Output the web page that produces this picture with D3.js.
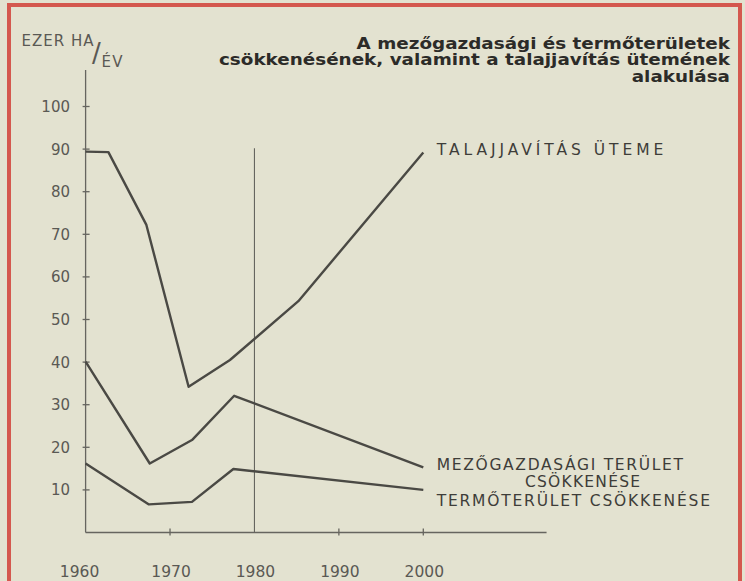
<!DOCTYPE html>
<meta charset="utf-8">
<style>

body {
  margin: 0;
  background: #e3e2d0;
}

svg {
  display: block;
}

.series {
  fill: none;
  stroke: #4a4944;
  stroke-width: 2.4px;
  stroke-linejoin: round;
}

.axis-line {
  stroke: #66655f;
  stroke-width: 1.3px;
  fill: none;
}

.tick-label {
  font-family: "DejaVu Sans", sans-serif;
  font-size: 15px;
  fill: #5a5954;
}

.series-label {
  font-family: "DejaVu Sans", sans-serif;
  font-size: 15.5px;
  fill: #3e3d39;
}

.title {
  font-family: "DejaVu Sans", sans-serif;
  font-weight: bold;
  font-size: 15.5px;
  fill: #2c2b28;
}

</style>
<svg></svg>
<script src="https://d3js.org/d3.v7.min.js"></script>
<script>

var width = 745,
    height = 581;

// talajjavítás üteme
var talajYears = [1960, 1962.7, 1967.2, 1972.2, 1977.1, 1985.2, 2000],
    talajValues = [89.4, 89.3, 72.2, 34.2, 40.5, 54.3, 89.2];

// mezőgazdasági terület csökkenése
var mezoYears = [1960, 1967.6, 1972.6, 1977.6, 2000],
    mezoValues = [40.1, 16.2, 21.7, 32.1, 15.3];

// termőterület csökkenése
var termoYears = [1960, 1967.5, 1972.6, 1977.5, 2000],
    termoValues = [16.2, 6.6, 7.2, 14.9, 10.0];

var yTicks = [10, 20, 30, 40, 50, 60, 70, 80, 90, 100],
    xTicks = [1960, 1970, 1980, 1990, 2000];

var titleLines = [
  "A mezőgazdasági és termőterületek",
  "csökkenésének, valamint a talajjavítás ütemének",
  "alakulása"
];

var x = d3.scaleLinear()
    .domain([1960, 2000])
    .range([85.6, 423.3]);

var y = d3.scaleLinear()
    .domain([0, 100])
    .range([532.5, 106.5]);

var svg = d3.select("svg")
    .attr("width", width)
    .attr("height", height);

// red frame of the newspaper box
svg.append("rect").attr("x", 7).attr("y", 3).attr("width", 735).attr("height", 4).attr("fill", "#d4584e");
svg.append("rect").attr("x", 7).attr("y", 3).attr("width", 4).attr("height", height).attr("fill", "#d4584e");
svg.append("rect").attr("x", 738).attr("y", 3).attr("width", 4).attr("height", height).attr("fill", "#d4584e");

// axes
svg.append("line")
    .attr("class", "axis-line")
    .attr("x1", x(1960)).attr("x2", x(1960))
    .attr("y1", 70).attr("y2", y(0));

svg.append("line")
    .attr("class", "axis-line")
    .attr("x1", x(1960)).attr("x2", x(2014.6))
    .attr("y1", y(0)).attr("y2", y(0));

svg.selectAll(".ytick")
    .data(yTicks)
  .enter().append("line")
    .attr("class", "axis-line")
    .attr("x1", x(1960) - 3).attr("x2", x(1960) + 4)
    .attr("y1", y).attr("y2", y);

svg.selectAll(".ylabel")
    .data(yTicks)
  .enter().append("text")
    .attr("class", "tick-label")
    .attr("x", 70)
    .attr("y", function(d) { return y(d) + 5.5; })
    .attr("text-anchor", "end")
    .text(function(d) { return d; });

svg.selectAll(".xtick")
    .data(xTicks.filter(function(d) { return d !== 1960 && d !== 1980; }))
  .enter().append("line")
    .attr("class", "axis-line")
    .attr("x1", x).attr("x2", x)
    .attr("y1", y(0) - 4).attr("y2", y(0) + 3);

// 1980 marker line
svg.append("line")
    .attr("stroke", "#66655f")
    .attr("stroke-width", 1.1)
    .attr("x1", x(1980)).attr("x2", x(1980))
    .attr("y1", 148.3).attr("y2", y(0));

svg.selectAll(".xlabel")
    .data(xTicks)
  .enter().append("text")
    .attr("class", "tick-label")
    .style("font-size", "15.5px")
    .attr("x", function(d) { return d === 1960 ? x(d) - 6 : x(d) + 1; })
    .attr("y", 576.5)
    .attr("text-anchor", "middle")
    .text(function(d) { return d; });

// unit label
svg.append("text").attr("class", "tick-label").style("font-size", "15px")
    .attr("x", 21.5).attr("y", 46).attr("textLength", 72).text("EZER HA");
svg.append("text").attr("class", "tick-label").style("font-size", "26px")
    .attr("x", 92).attr("y", 62).text("/");
svg.append("text").attr("class", "tick-label").style("font-size", "15px")
    .attr("x", 101.5).attr("y", 66.7).attr("textLength", 21).text("ÉV");

// series
var line = d3.line()
    .x(function(d) { return x(d[0]); })
    .y(function(d) { return y(d[1]); });

[[talajYears, talajValues], [mezoYears, mezoValues], [termoYears, termoValues]].forEach(function(s) {
  svg.append("path")
      .attr("class", "series")
      .attr("d", line(d3.zip(s[0], s[1])));
});

// series labels
var labels = [
  {text: "TALAJJAVÍTÁS  ÜTEME", x: 436.7, y: 155, w: 226.6},
  {text: "MEZŐGAZDASÁGI TERÜLET", x: 436.7, y: 470, w: 246.3},
  {text: "CSÖKKENÉSE", x: 525, y: 486.7, w: 115},
  {text: "TERMŐTERÜLET CSÖKKENÉSE", x: 436.7, y: 506, w: 273.3}
];

svg.selectAll(".series-label")
    .data(labels)
  .enter().append("text")
    .attr("class", "series-label")
    .attr("x", function(d) { return d.x; })
    .attr("y", function(d) { return d.y; })
    .attr("textLength", function(d) { return d.w; })
    .attr("lengthAdjust", "spacing")
    .text(function(d) { return d.text; });

// title, right aligned
var title = svg.selectAll(".title")
    .data(titleLines)
  .enter().append("text")
    .attr("class", "title")
    .attr("x", 730)
    .attr("y", function(d, i) { return 48.5 + i * 16.5; })
    .attr("text-anchor", "end")
    .text(function(d) { return d; });

var nodes = title.nodes(),
    ratio = 511 / nodes[1].getComputedTextLength();
title.attr("textLength", function(d, i) { return nodes[i].getComputedTextLength() * ratio; })
    .attr("lengthAdjust", "spacingAndGlyphs");

</script>
